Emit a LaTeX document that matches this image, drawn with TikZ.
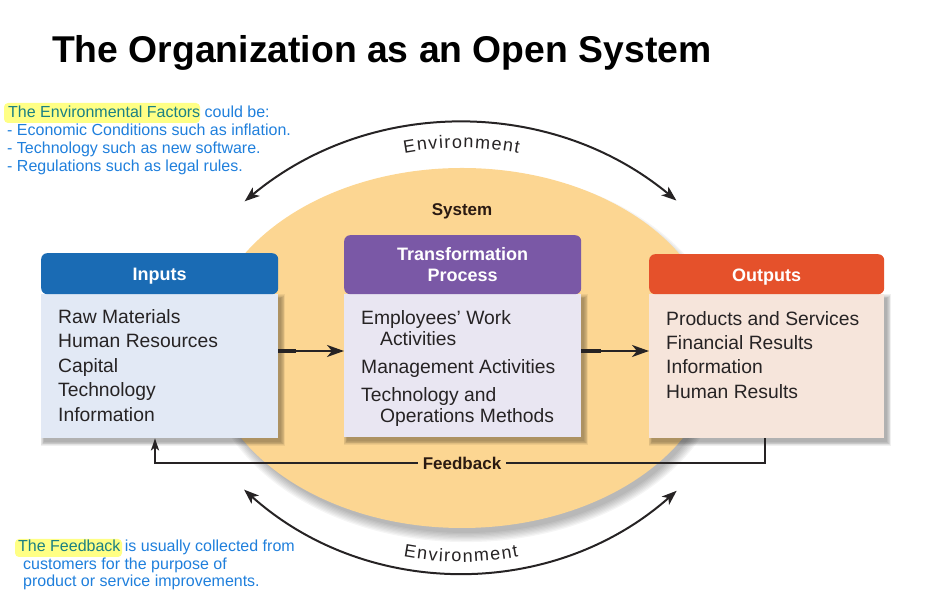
\documentclass[tikz,border=0pt]{standalone}
\usepackage{fontspec}
\setmainfont{Liberation Sans}
\usetikzlibrary{arrows.meta,decorations.text,shapes.geometric}

\definecolor{sysfill}{HTML}{FCD692}
\definecolor{inhead}{HTML}{1A6BB4}
\definecolor{inbody}{HTML}{E2E9F5}
\definecolor{trhead}{HTML}{7A58A6}
\definecolor{trbody}{HTML}{E9E6F2}
\definecolor{outhead}{HTML}{E5512B}
\definecolor{outbody}{HTML}{F6E5DB}
\definecolor{note}{HTML}{1F7FDC}
\definecolor{notehl}{HTML}{1B8083}
\definecolor{hlyellow}{HTML}{FFFF70}
\definecolor{ink}{HTML}{262324}
\definecolor{dark}{HTML}{2A1A12}

\pgfdeclarelayer{ellshadow}
\pgfdeclarelayer{ell}
\pgfdeclarelayer{boxshadow}
\pgfsetlayers{ellshadow,ell,boxshadow,main}

\newcommand\envfont{\fontsize{18}{20}\selectfont\color{ink}}

\tikzset{
  bodybox/.style={rectangle, inner sep=0pt, anchor=north west, minimum height=144pt},
  hdrbox/.style={rectangle, rounded corners=6pt, inner sep=0pt, anchor=north west,
    text=white, align=center, font=\fontsize{18}{21}\selectfont\bfseries},
  hdrlabel/.style={inner sep=0pt, text=white, font=\fontsize{18}{21}\selectfont\bfseries},
  item/.style={anchor=base west, inner sep=0pt, text=ink,
    font=\fontsize{19.3}{22}\selectfont},
  notetext/.style={anchor=base west, inner sep=0pt, text=note,
    font=\fontsize{16}{18}\selectfont},
  flow/.style={draw=ink, line width=1.8pt, -{Stealth[length=17pt,width=12pt,inset=5pt]}},
  flowstub/.style={draw=ink, line width=4.5pt},
  envarrow/.style={draw=ink, line width=2pt,
    {Stealth[length=15pt,width=11pt,inset=4pt]}-{Stealth[length=15pt,width=11pt,inset=4pt]}},
  fbline/.style={draw=ink, line width=2.4pt, -{Stealth[length=12pt,width=8pt,inset=3pt]}},
  boldlabel/.style={inner sep=0pt, text=dark, font=\fontsize{17}{19}\selectfont\bfseries},
  hl/.style={fill=hlyellow, opacity=0.85, rounded corners=4pt}
}

\begin{document}
\begin{tikzpicture}[x=1pt,y=1pt]
\useasboundingbox (0,0) rectangle (927,596);

% title
\node[anchor=base west, inner sep=0pt, font=\fontsize{37.3}{40}\selectfont\bfseries]
  (title) at (52,533) {The Organization as an Open System};

% the system ellipse with a soft shadow underneath
\begin{pgfonlayer}{ell}
  \node[ellipse, fill=sysfill, minimum width=510pt, minimum height=360pt, inner sep=0pt]
    (sys) at (462,248) {};
\end{pgfonlayer}
\begin{pgfonlayer}{ellshadow}
  \foreach \k in {0,...,7}
    \fill[black, opacity=0.04] ([shift={(4,-8)}]sys.center) ellipse ({252+\k*1.3} and {177+\k*1.3});
\end{pgfonlayer}
\node[boldlabel] (syslbl) at (462,385) {System};

% environment arcs
\coordinate (envtop) at (461,135);
\coordinate (envbot) at (461,349);
\draw[envarrow] ([shift={(129.8:338)}]envtop) arc[start angle=129.8, end angle=50.4, radius=338];
\draw[envarrow] ([shift={(-131.8:325.5)}]envbot) arc[start angle=-131.8, end angle=-48.5, radius=325.5];
\path[decorate, decoration={text along path, text={|\envfont|Environment}, text align=fit to path}]
  ([shift={(100.4:313)}]envtop) arc[start angle=100.4, end angle=79.4, radius=313];
\path[decorate, decoration={text along path, text={|\envfont|Environment}, text align=fit to path}]
  ([shift={(-100.55:315)}]envbot) arc[start angle=-100.55, end angle=-79.45, radius=315];

% boxes
\node[bodybox, fill=inbody, minimum width=237pt] (inbox) at (41,302) {};
\node[hdrbox, fill=inhead, minimum width=237pt, minimum height=41pt] (inhd) at (41,343) {};
\node[hdrlabel] (inlbl) at ([yshift=-2.5pt]inhd.center) {Inputs};
\node[bodybox, fill=trbody, minimum width=237pt, minimum height=143pt] (trbox) at (344,302) {};
\node[hdrbox, fill=trhead, minimum width=237pt, minimum height=59pt] (trhd) at (344,361) {Transformation\\Process};
\node[bodybox, fill=outbody, minimum width=235pt] (outbox) at (649,302) {};
\node[hdrbox, fill=outhead, minimum width=235pt, minimum height=40pt] (outhd) at (649,342) {};
\node[hdrlabel] (outlbl) at ([yshift=-3pt]outhd.center) {Outputs};

\begin{pgfonlayer}{boxshadow}
  \foreach \b in {inbox,trbox,outbox}
    \foreach \k in {0,...,5}
      \fill[black, opacity=0.06]
        ([shift={(3-\k*0.7,-4-\k*0.7)}]\b.south west) rectangle ([shift={(3+\k*0.7,-4+\k*0.7)}]\b.north east);
\end{pgfonlayer}

% box contents
\node[item] (in1) at (58,272) {Raw Materials};
\node[item] (in2) at (58,248) {Human Resources};
\node[item] (in3) at (58,223) {Capital};
\node[item] (in4) at (58,199) {Technology};
\node[item] (in5) at (58,174) {Information};

\node[item] (tr1) at (361,271) {Employees’ Work};
\node[item] (tr2) at (380,250) {Activities};
\node[item] (tr3) at (361,222) {Management Activities};
\node[item] (tr4) at (361,194) {Technology and};
\node[item] (tr5) at (380,173) {Operations Methods};

\node[item] (out1) at (666,270) {Products and Services};
\node[item] (out2) at (666,246) {Financial Results};
\node[item] (out3) at (666,222) {Information};
\node[item] (out4) at (666,197) {Human Results};

% flow arrows between boxes
\coordinate (flowy) at (0,245);
\draw[flowstub] (inbox.east |- flowy) -- ++(18,0);
\draw[flow] (inbox.east |- flowy) -- (trbox.west |- flowy);
\draw[flowstub] (trbox.east |- flowy) -- ++(20,0);
\draw[flow] (trbox.east |- flowy) -- (outbox.west |- flowy);

% feedback loop
\coordinate (fbR) at (765,133);
\coordinate (fbL) at (155,133);
\draw[fbline] (outbox.south -| fbR) -- (fbR) -- (fbL) -- (inbox.south -| fbL);
\node[boldlabel, fill=sysfill, inner xsep=5pt, inner ysep=3pt] (fblbl) at (462,133) {Feedback};

% notes
\fill[hl] (4,473) rectangle (200,493);
\node[notetext] (n1) at (8,478) {{\color{notehl}The Environmental Factors} could be:};
\node[notetext] (n2) at (7,460) {- Economic Conditions such as inflation.};
\node[notetext] (n3) at (7,442) {- Technology such as new software.};
\node[notetext] (n4) at (7,424) {- Regulations such as legal rules.};

\fill[hl] (15,39) rectangle (122,57);
\node[notetext] (f1) at (18,44) {{\color{notehl}The Feedback} is usually collected from};
\node[notetext] (f2) at (23,26.5) {customers for the purpose of};
\node[notetext] (f3) at (23,9) {product or service improvements.};
\end{tikzpicture}
\end{document}
